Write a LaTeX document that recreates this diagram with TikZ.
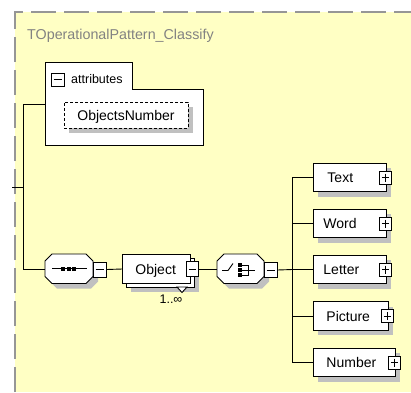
\documentclass[tikz,border=0pt]{standalone}
\usepackage{fontspec}
\setmainfont{Liberation Sans}
\usetikzlibrary{shadows}
\definecolor{bgyellow}{RGB}{255,255,196}
\definecolor{dashgray}{RGB}{150,150,150}
\definecolor{shadowgray}{RGB}{192,192,192}
\definecolor{titlegray}{RGB}{130,130,130}
\tikzset{
  shad/.style={drop shadow={shadow xshift=5pt,shadow yshift=-5pt,fill=shadowgray,opacity=1}},
  conn/.style={draw=black,line width=0.9pt},
  elembox/.style={draw=black,fill=white,rectangle,line width=0.9pt,inner xsep=0pt,inner ysep=0pt,
    minimum height=28.5pt,anchor=west,font=\fontsize{14}{15}\selectfont,
    text height=10pt,text depth=0pt,align=left},
  pmbox/.style={draw=black,fill=white,rectangle,line width=0.9pt,minimum width=12pt,minimum height=14pt,inner sep=0pt},
  minusbox/.style={pmbox,path picture={\draw[line width=0.9pt] ([xshift=2.5pt]path picture bounding box.west) -- ([xshift=-2.5pt]path picture bounding box.east);}},
  plusbox/.style={pmbox,path picture={\draw[line width=0.9pt] ([xshift=2.5pt]path picture bounding box.west) -- ([xshift=-2.5pt]path picture bounding box.east);
     \draw[line width=0.9pt] ([yshift=-2.5pt]path picture bounding box.north) -- ([yshift=2.5pt]path picture bounding box.south);}},
  octapath/.style={draw=black,fill=white,line width=0.9pt},
  anchorbox/.style={rectangle,draw=none,inner sep=0pt},
}
\begin{document}
\begin{tikzpicture}[x=1pt,y=-1pt]
\useasboundingbox (0,0) rectangle (411,392);
\fill[white] (0,0) rectangle (411,392);
\fill[bgyellow] (15,12) rectangle (411,392);
\draw[dashgray,line width=1.4pt,dash pattern=on 25pt off 8pt] (15,392) -- (15,12) -- (411,12);

\node[anchor=base west,text=titlegray,font=\fontsize{14.3}{15}\selectfont,inner sep=0pt] (title) at (27,39) {TOperationalPattern\_Classify};

% attributes container
\draw[fill=white,line width=0.9pt] (45,62) -- (132,62) -- (132,89) -- (203,89) -- (203,145) -- (45,145) -- cycle;
\node[minusbox,minimum width=13pt,minimum height=13pt] (attrm) at (57.5,79.5) {};
\node[anchor=west,font=\fontsize{12.5}{13}\selectfont,inner sep=0pt] (attrlabel) at (71,79.5) {attributes};
\node[shad,draw=black,fill=white,dash pattern=on 3pt off 2pt,line width=0.9pt,minimum width=124pt,minimum height=26pt,inner sep=0pt,
  font=\fontsize{14}{15}\selectfont,text height=10pt,text depth=0pt] (objnum) at (126,115) {ObjectsNumber};
\coordinate (attrL) at (45,104);

% left bus
\coordinate (stub) at (12,187);
\coordinate (busJ) at (23,187);
\coordinate (busTop) at (23,104);
\coordinate (busBot) at (23,269);

% sequence
\path[octapath,shad] (52,254) -- (86,254) -- (93,261) -- (93,276.5) -- (86,283.5) -- (52,283.5) -- (45,276.5) -- (45,261) -- cycle;
\node[anchorbox,minimum width=48pt,minimum height=29.5pt] (seq) at (69,269) {};
\draw[conn] (52,268.7) -- (87,268.7);
\fill (61,266.7) rectangle (65,270.7);
\fill (66.5,266.7) rectangle (70.5,270.7);
\fill (72,266.7) rectangle (76,270.7);
\node[minusbox,minimum width=13pt,minimum height=15pt] (seqm) at (99.5,269.5) {};

% Object (stacked)
\node[elembox,shad,minimum width=68pt,anchor=center] (objback) at (160,273) {};
\node[elembox,minimum width=68pt,text width=68pt] (obj) at (122,269) {\hspace*{13pt}Object};
\node[minusbox,minimum width=12pt,minimum height=15pt] (objm) at (192,269) {};
\draw[fill=white,line width=0.9pt] (177,287) -- (187,287) -- (182,292.5) -- cycle;
\node[font=\fontsize{12.5}{13}\selectfont,inner sep=0pt] (card) at (171,299) {1..∞};

% choice
\path[octapath,shad] (224,254) -- (257,254) -- (264,261) -- (264,276.5) -- (257,283.5) -- (224,283.5) -- (217,276.5) -- (217,261) -- cycle;
\node[anchorbox,minimum width=47pt,minimum height=29.5pt] (choice) at (240.5,269) {};
\draw[conn] (222,270.5) -- (228,270.5) -- (233,263.5);
\fill (238,263) rectangle (242,267);
\fill (238,268) rectangle (242,272);
\fill (238,273) rectangle (242,277);
\draw[conn] (242,265) -- (248,265) -- (248,275) -- (242,275);
\draw[conn] (242,270) -- (255,270);
\node[minusbox,minimum width=13pt,minimum height=15pt] (choicem) at (270.5,270) {};

% children
\node[elembox,shad,text width=73pt] (text) at (313,177.5) {\hspace*{14pt}Text};
\node[elembox,shad,text width=73pt] (word) at (313,223.5) {\hspace*{10pt}Word};
\node[elembox,shad,text width=73pt] (letter) at (313,269.5) {\hspace*{10pt}Letter};
\node[elembox,shad,text width=75pt] (picture) at (313,316) {\hspace*{13pt}Picture};
\node[elembox,shad,text width=82pt] (number) at (313,362.5) {\hspace*{13pt}Number};
\node[plusbox,minimum height=13pt] (textp) at ([xshift=-1.5pt]text.east) {};
\node[plusbox,minimum height=13pt] (wordp) at ([xshift=-1.5pt]word.east) {};
\node[plusbox,minimum height=13pt] (letterp) at ([xshift=-1.5pt]letter.east) {};
\node[plusbox,minimum height=13pt] (picturep) at ([xshift=-1.5pt]picture.east) {};
\node[plusbox,minimum height=13pt] (numberp) at ([xshift=-1.5pt]number.east) {};
\coordinate (cbus) at (292,269.5);

% connectors
\draw[conn] (stub) -- (busJ);
\draw[conn] (attrL) -- (busTop) -- (busBot) -- (seq.west);
\draw[conn] (seqm.east) -- (obj.west);
\draw[conn] (objm.east) -- (choice.west);
\draw[conn] (choicem.east) -- (cbus);
\draw[conn] (text.west) -| (cbus);
\draw[conn] (number.west) -| (cbus);
\draw[conn] (word.west) -- (word.west -| cbus);
\draw[conn] (letter.west) -- (cbus);
\draw[conn] (picture.west) -- (picture.west -| cbus);
\end{tikzpicture}
\end{document}
